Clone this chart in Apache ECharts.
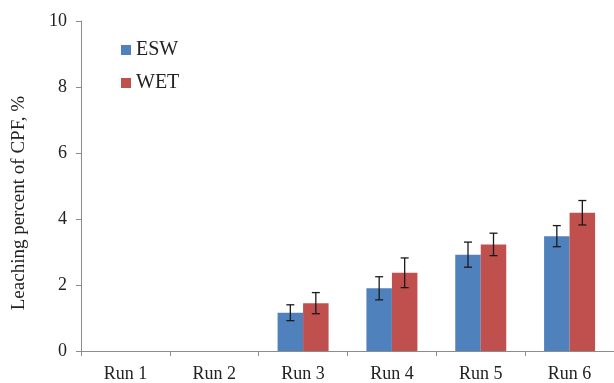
<!DOCTYPE html>
<html><head><meta charset="utf-8">
<script src="https://cdn.jsdelivr.net/npm/echarts@6/dist/echarts.min.js"></script>
<style>html,body{margin:0;padding:0;background:#fff}#c{width:614px;height:383px}</style>
</head><body><div id="c"></div>
<script>
var categories = ['Run 1','Run 2','Run 3','Run 4','Run 5','Run 6'];
var eswValues = [0, 0, 1.16, 1.90, 2.92, 3.48];
var eswErrors = [null, null, 0.24, 0.35, 0.38, 0.32];
var wetValues = [0, 0, 1.45, 2.37, 3.23, 4.19];
var wetErrors = [null, null, 0.32, 0.45, 0.34, 0.37];
var yTicks = [0, 2, 4, 6, 8, 10];

var FONT = '"Liberation Serif", "Times New Roman", serif';
var BW = 25.5;
function errSeries(values, errors, offset) {
  var d = [];
  for (var i = 0; i < values.length; i++) {
    if (errors[i] != null) d.push([i, values[i] - errors[i], values[i] + errors[i]]);
  }
  return {
    type: 'custom', silent: true, z: 10,
    data: d,
    renderItem: function (params, api) {
      var lo = api.coord([api.value(0), api.value(1)]);
      var hi = api.coord([api.value(0), api.value(2)]);
      var x = lo[0] + offset, h = 4;
      var st = { stroke: '#1a1a1a', lineWidth: 1.3 };
      return { type: 'group', children: [
        { type: 'line', shape: { x1: x, y1: lo[1], x2: x, y2: hi[1] }, style: st },
        { type: 'line', shape: { x1: x - h, y1: lo[1], x2: x + h, y2: lo[1] }, style: st },
        { type: 'line', shape: { x1: x - h, y1: hi[1], x2: x + h, y2: hi[1] }, style: st }
      ]};
    }
  };
}
var chart = echarts.init(document.getElementById('c'));
chart.setOption({
  animation: false,
  grid: { left: 81, top: 21, bottom: 30, right: -9, containLabel: false },
  legend: {
    orient: 'vertical', left: 116, top: 35, itemWidth: 10, itemHeight: 10, itemGap: 13,
    icon: 'rect',
    textStyle: { fontFamily: FONT, fontSize: 20, color: '#222' },
    data: ['ESW', 'WET']
  },
  xAxis: {
    type: 'category', data: categories,
    axisLine: { lineStyle: { color: '#8c8c8c', width: 1 } },
    axisTick: { show: true, length: 5, lineStyle: { color: '#8c8c8c' } },
    axisLabel: { fontFamily: FONT, fontSize: 18, color: '#222', margin: 14 }
  },
  yAxis: {
    type: 'value', min: 0, max: 10, interval: 2,
    axisLine: { show: true, lineStyle: { color: '#8c8c8c', width: 1 } },
    axisTick: { show: true, length: 5, lineStyle: { color: '#8c8c8c' } },
    splitLine: { show: false },
    axisLabel: { fontFamily: FONT, fontSize: 18, color: '#222', margin: 14,
      formatter: function (v) { return yTicks.indexOf(v) >= 0 ? String(v) : ''; } }
  },
  graphic: [{
    type: 'text', left: 10, top: 96, rotation: Math.PI / 2,
    style: { text: 'Leaching percent of CPF, %', font: '19px "Liberation Serif"', fill: '#222' }
  }],
  series: [
    { name: 'ESW', type: 'bar', data: eswValues, barWidth: BW, barGap: '0%',
      itemStyle: { color: '#4F81BD' } },
    { name: 'WET', type: 'bar', data: wetValues, barWidth: BW, barGap: '0%',
      itemStyle: { color: '#C0504D' } },
    errSeries(eswValues, eswErrors, -BW / 2),
    errSeries(wetValues, wetErrors, BW / 2)
  ]
});
</script></body></html>
